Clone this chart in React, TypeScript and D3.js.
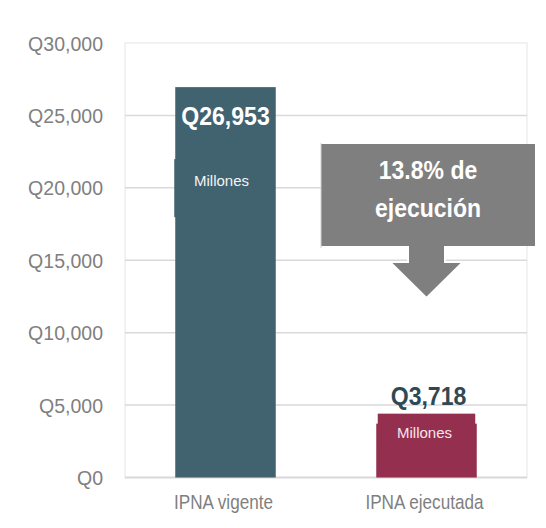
import React from 'react';
import * as d3 from 'd3';

const categories = ['IPNA vigente', 'IPNA ejecutada'];
const values = [26953, 3718];
const valueLabels = ['Q26,953', 'Q3,718'];
const unitLabel = 'Millones';
const yTicks = [0, 5000, 10000, 15000, 20000, 25000, 30000];
const calloutLines = ['13.8% de', 'ejecución'];

const W = 546;
const H = 528;
const margin = { top: 43, right: 19, bottom: 50.5, left: 125 };

const barColors = ['#41626f', '#952f50'];
const font = "'Liberation Sans', Arial, sans-serif";

const fmtQ = (d: number) => 'Q' + d3.format(',')(d);

// the original uses a condensed face; squeeze Liberation Sans horizontally
function Condensed({ x, y, sx, anchor = 'middle', children, ...rest }: any) {
  return (
    <text transform={`translate(${x},${y}) scale(${sx},1)`} textAnchor={anchor}
      fontFamily={font} {...rest}>{children}</text>
  );
}

export default function App() {
  const x = d3.scaleBand<string>()
    .domain(categories)
    .range([margin.left, W - margin.right])
    .paddingInner(0.5)
    .paddingOuter(0.25);
  const y = d3.scaleLinear().domain([0, 30000]).range([H - margin.bottom, margin.top]);
  const bw = x.bandwidth();

  // callout box + arrow sit over the second bar
  const cx = x(categories[1])! + bw / 2;
  const box = { x0: 321, x1: 535, y0: 144, y1: 246 };

  return (
    <svg width={W} height={H} style={{ position: 'absolute', left: 0, top: 0, background: '#fff' }}>
      {/* frame */}
      <rect x={margin.left} y={margin.top} width={W - margin.right - margin.left}
        height={y(0) - margin.top} fill="none" stroke="#eeeeee" strokeWidth={1.5} />
      {yTicks.map(t => (
        <g key={t}>
          {t > 0 && t < 30000 && (
            <line x1={margin.left} x2={W - margin.right} y1={y(t)} y2={y(t)} stroke="#d9d9d9" strokeWidth={1.5} />
          )}
          <Condensed x={103} y={y(t) + 7.6} sx={0.93} anchor="end" fill="#7f7f7f" fontSize={21}>
            {fmtQ(t)}
          </Condensed>
        </g>
      ))}
      <line x1={margin.left} x2={W - margin.right} y1={y(0)} y2={y(0)} stroke="#d9d9d9" strokeWidth={2} />

      {categories.map((c, i) => {
        const bx = x(c)!;
        const top = y(values[i]);
        return (
          <g key={c}>
            <rect x={bx} y={top} width={bw} height={y(0) - top} fill={barColors[i]} />
            <Condensed x={bx + bw / 2 - 2} y={509} sx={0.88} fill="#7f7f7f" fontSize={19.5}>{c}</Condensed>
          </g>
        );
      })}

      {/* labels for first bar (inside) */}
      <rect x={x(categories[0])! - 1} y={y(values[0]) + 72} width={bw} height={58} fill={barColors[0]} />
      <Condensed x={x(categories[0])! + bw / 2} y={y(values[0]) + 37.5} sx={0.87} fill="#fff"
        fontWeight="bold" fontSize={26.5}>{valueLabels[0]}</Condensed>
      <text x={x(categories[0])! + bw / 2 - 4} y={y(values[0]) + 99} textAnchor="middle" fill="#f4f4f4"
        fontFamily={font} fontSize={15}>{unitLabel}</text>

      {/* labels for second bar */}
      <rect x={x(categories[1])! + 1.5} y={y(values[1]) - 10} width={bw - 3} height={40} fill={barColors[1]} />
      <Condensed x={cx + 2} y={405} sx={0.87} fill="#2f4954" fontWeight="bold" fontSize={26.5}>
        {valueLabels[1]}
      </Condensed>
      <text x={cx - 2} y={y(values[1]) + 14.5} textAnchor="middle" fill="#f6e6eb"
        fontFamily={font} fontSize={15}>{unitLabel}</text>

      {/* callout arrow */}
      <path d={`M${cx - 18.5},${box.y1 - 2} L${cx + 18.5},${box.y1 - 2} L${cx + 18.5},262 L${cx + 36.5},262 L${cx},298 L${cx - 36.5},262 L${cx - 18.5},262 Z`}
        fill="#7f7f7f" stroke="#fff" strokeWidth={2} />
      <rect x={box.x0} y={box.y0} width={box.x1 - box.x0} height={box.y1 - box.y0} fill="#7f7f7f" />
      <line x1={box.x0} x2={box.x0} y1={box.y0 - 1} y2={box.y1 + 2} stroke="#d0d0d0" strokeWidth={1} />
      {calloutLines.map((l, i) => (
        <Condensed key={l} x={(box.x0 + box.x1) / 2} y={179 + i * 38} sx={0.92} fill="#fff"
          fontWeight="bold" fontSize={25}>{l}</Condensed>
      ))}
    </svg>
  );
}
